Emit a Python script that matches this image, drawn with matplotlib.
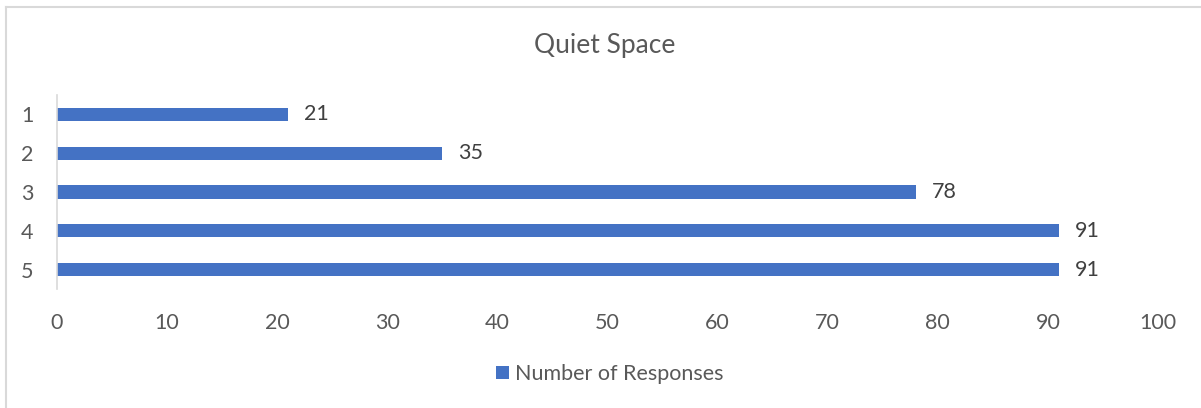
import matplotlib
matplotlib.use("Agg")
import matplotlib.pyplot as plt
from matplotlib.lines import Line2D

categories = ["1", "2", "3", "4", "5"]
values = [21, 35, 78, 91, 91]
series_name = "Number of Responses"
title = "Quiet Space"
xticks = [0, 10, 20, 30, 40, 50, 60, 70, 80, 90, 100]

plt.rcParams['font.family'] = ['Lato', 'DejaVu Sans']

W, H = 1201, 408
fig = plt.figure(figsize=(W / 100, H / 100), dpi=100)
fig.patch.set_facecolor("white")

left, right, top, bottom = 57, 1158, 95, 289
ax = fig.add_axes([left / W, 1 - bottom / H, (right - left) / W, (bottom - top) / H])

bar_color = "#4472C4"
ypos = list(range(len(categories)))
bars = ax.barh(ypos, values, height=0.34, color=bar_color, label=series_name)
ax.set_ylim(len(categories) - 0.5, -0.5)
ax.set_xlim(0, 100)
ax.set_xticks(xticks)
ax.set_yticks(ypos)
ax.set_yticklabels(categories)

for s in ["top", "right", "bottom"]:
    ax.spines[s].set_visible(False)
ax.spines["left"].set_color("#d9d9d9")
ax.spines["left"].set_linewidth(1.2)

ax.tick_params(axis="both", length=0, colors="#595959", labelsize=15.5)
ax.tick_params(axis="x", pad=17)
ax.tick_params(axis="y", pad=17)

for b, v in zip(bars, values):
    ax.annotate(str(v), xy=(b.get_width(), b.get_y() + b.get_height() / 2),
                xytext=(11.5, 0), textcoords="offset points",
                ha="left", va="center", fontsize=15.5, color="#404040")

fig.text(605 / W, 1 - 46 / H, title, ha="center", va="center", fontsize=19, color="#595959")

leg = fig.legend(handles=[bars], labels=[series_name], loc="center",
                 bbox_to_anchor=(610 / W, 1 - 374 / H), frameon=False,
                 handlelength=0.6, handleheight=0.6, handletextpad=0.3,
                 fontsize=15.5, labelcolor="#595959")

fig.add_artist(Line2D([5.5 / W, 1], [1 - 7 / H, 1 - 7 / H], color="#d9d9d9", lw=1.5, transform=fig.transFigure))
fig.add_artist(Line2D([5.5 / W, 5.5 / W], [1 - 7 / H, 0], color="#d9d9d9", lw=1.5, transform=fig.transFigure))

fig.savefig("out.png", dpi=100, facecolor="white")
